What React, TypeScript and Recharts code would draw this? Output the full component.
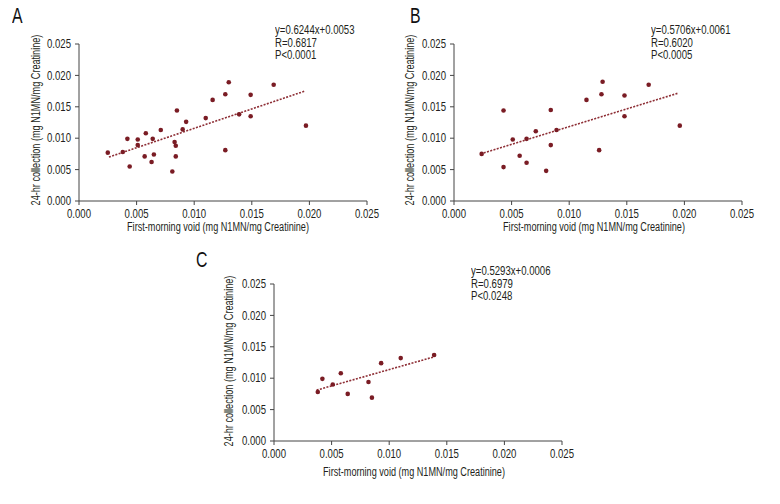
import { ScatterChart, Scatter, XAxis, YAxis, ReferenceLine } from "recharts";

const FONT = "'Liberation Sans', Arial, sans-serif";
const SQUEEZE = 0.8; // the figure uses a condensed face
const TITLE_SQUEEZE = 0.76;
const DOT_COLOR = "#7a1c24";
const TREND_COLOR = "#8e2f36";
const TEXT_COLOR = "#231f20";

const axisTicks = [0, 0.005, 0.01, 0.015, 0.02, 0.025];

const yTitle = "24-hr collection (mg N1MN/mg Creatinine)";
const xTitle = "First-morning void (mg N1MN/mg Creatinine)";

const pointsA = [
  { x: 0.0025, y: 0.0077 }, { x: 0.0038, y: 0.0078 }, { x: 0.0042, y: 0.0099 },
  { x: 0.0044, y: 0.0055 }, { x: 0.0051, y: 0.0098 }, { x: 0.0051, y: 0.0089 },
  { x: 0.0058, y: 0.0108 }, { x: 0.0057, y: 0.0071 }, { x: 0.0064, y: 0.0099 },
  { x: 0.0063, y: 0.0062 }, { x: 0.0065, y: 0.0074 }, { x: 0.0071, y: 0.0113 },
  { x: 0.0081, y: 0.0047 }, { x: 0.0083, y: 0.0094 }, { x: 0.0084, y: 0.0088 },
  { x: 0.0084, y: 0.0071 }, { x: 0.0085, y: 0.0144 }, { x: 0.009, y: 0.0114 },
  { x: 0.0093, y: 0.0126 }, { x: 0.011, y: 0.0132 }, { x: 0.0116, y: 0.0161 },
  { x: 0.0127, y: 0.017 }, { x: 0.013, y: 0.0189 }, { x: 0.0127, y: 0.0081 },
  { x: 0.0139, y: 0.0138 }, { x: 0.0149, y: 0.0169 }, { x: 0.0149, y: 0.0135 },
  { x: 0.0169, y: 0.0185 }, { x: 0.0197, y: 0.012 },
];

const pointsB = [
  { x: 0.0024, y: 0.0075 }, { x: 0.0043, y: 0.0144 }, { x: 0.0043, y: 0.0054 },
  { x: 0.0051, y: 0.0098 }, { x: 0.0057, y: 0.0072 }, { x: 0.0063, y: 0.0099 },
  { x: 0.0063, y: 0.0061 }, { x: 0.0071, y: 0.0111 }, { x: 0.008, y: 0.0048 },
  { x: 0.0084, y: 0.0145 }, { x: 0.0084, y: 0.0089 }, { x: 0.0089, y: 0.0113 },
  { x: 0.0115, y: 0.0161 }, { x: 0.0128, y: 0.017 }, { x: 0.0129, y: 0.019 },
  { x: 0.0126, y: 0.0081 }, { x: 0.0148, y: 0.0168 }, { x: 0.0148, y: 0.0135 },
  { x: 0.0169, y: 0.0185 }, { x: 0.0196, y: 0.012 },
];

const pointsC = [
  { x: 0.0038, y: 0.0078 }, { x: 0.0042, y: 0.0099 }, { x: 0.0051, y: 0.009 },
  { x: 0.0058, y: 0.0108 }, { x: 0.0064, y: 0.0075 }, { x: 0.0082, y: 0.0094 },
  { x: 0.0085, y: 0.0069 }, { x: 0.0093, y: 0.0124 }, { x: 0.011, y: 0.0132 },
  { x: 0.0139, y: 0.0137 },
];

// fitted lines, endpoints as drawn
const trendA = [{ x: 0.0026, y: 0.007 }, { x: 0.0196, y: 0.0175 }];
const trendB = [{ x: 0.0023, y: 0.0075 }, { x: 0.0195, y: 0.0172 }];
const trendC = [{ x: 0.0037, y: 0.0081 }, { x: 0.0139, y: 0.0134 }];

const statsA = ["y=0.6244x+0.0053", "R=0.6817", "P<0.0001"];
const statsB = ["y=0.5706x+0.0061", "R=0.6020", "P<0.0005"];
const statsC = ["y=0.5293x+0.0006", "R=0.6979", "P<0.0248"];

const fmt = (v: number) => v.toFixed(3);

const Dot = (props: any) => (
  <circle cx={props.cx} cy={props.cy} r={2.3} fill={DOT_COLOR} />
);

const XTick = ({ x, y, payload }: any) => (
  <g transform={`translate(${x},${y})`}>
    <text
      transform={`scale(${SQUEEZE},1)`}
      textAnchor="middle"
      dy="0.71em"
      fontSize={12}
      fontFamily={FONT}
      fill={TEXT_COLOR}
    >
      {fmt(payload.value)}
    </text>
  </g>
);

const YTick = ({ x, y, payload }: any) => (
  <g transform={`translate(${x},${y})`}>
    <text
      transform={`scale(${SQUEEZE},1)`}
      textAnchor="end"
      dy="0.355em"
      fontSize={12}
      fontFamily={FONT}
      fill={TEXT_COLOR}
    >
      {fmt(payload.value)}
    </text>
  </g>
);

interface PanelProps {
  left: number;
  top: number;
  points: { x: number; y: number }[];
  trend: { x: number; y: number }[];
}

const Panel = ({ left, top, points, trend }: PanelProps) => (
  <div style={{ position: "absolute", left, top }}>
    <ScatterChart
      width={400}
      height={250}
      margin={{ top: 44, right: 33, bottom: 19, left: 0 }}
    >
      <XAxis
        type="number"
        dataKey="x"
        domain={[0, 0.025]}
        ticks={axisTicks}
        stroke="#444"
        tickSize={4}
        tickMargin={4}
        height={30}
        tick={<XTick />}
      />
      <YAxis
        type="number"
        dataKey="y"
        domain={[0, 0.025]}
        ticks={axisTicks}
        stroke="#444"
        tickSize={4}
        tickMargin={4}
        width={79}
        tick={<YTick />}
      />
      <ReferenceLine
        segment={trend}
        stroke={TREND_COLOR}
        strokeWidth={1.6}
        strokeDasharray="2 1.4"
        ifOverflow="visible"
      />
      <Scatter data={points} isAnimationActive={false} shape={Dot} />
    </ScatterChart>
  </div>
);

const textBase = {
  position: "absolute" as const,
  fontSize: 12,
  whiteSpace: "nowrap" as const,
  color: TEXT_COLOR,
};

const Stats = ({ left, top, lines }: { left: number; top: number; lines: string[] }) => (
  <div
    style={{
      ...textBase,
      left,
      top,
      lineHeight: "12.5px",
      transform: `scale(${SQUEEZE},1)`,
      transformOrigin: "0 0",
    }}
  >
    {lines.map((l) => (
      <div key={l}>{l}</div>
    ))}
  </div>
);

const YTitle = ({ cx, cy }: { cx: number; cy: number }) => (
  <div
    style={{
      ...textBase,
      left: cx,
      top: cy,
      transform: `translate(-50%, -50%) rotate(-90deg) scale(${TITLE_SQUEEZE},1)`,
    }}
  >
    {yTitle}
  </div>
);

const XTitle = ({ cx, cy }: { cx: number; cy: number }) => (
  <div
    style={{
      ...textBase,
      left: cx,
      top: cy,
      transform: `translate(-50%, -50%) scale(${TITLE_SQUEEZE},1)`,
    }}
  >
    {xTitle}
  </div>
);

const Letter = ({ left, top, text }: { left: number; top: number; text: string }) => (
  <div
    style={{
      ...textBase,
      left,
      top,
      fontSize: 22,
      lineHeight: "22px",
      color: "#111",
      transform: "scale(0.72,1)",
      transformOrigin: "0 0",
    }}
  >
    {text}
  </div>
);

export default function App() {
  return (
    <div
      style={{
        position: "relative",
        width: 780,
        height: 504,
        margin: -8,
        background: "#fff",
        fontFamily: FONT,
        overflow: "hidden",
      }}
    >
      <Panel left={0} top={0} points={pointsA} trend={trendA} />
      <Panel left={375} top={0} points={pointsB} trend={trendB} />
      <Panel left={195} top={240} points={pointsC} trend={trendC} />

      <Letter left={12} top={5} text="A" />
      <Letter left={410} top={5} text="B" />
      <Letter left={196} top={249} text="C" />

      <Stats left={275} top={24} lines={statsA} />
      <Stats left={651} top={24} lines={statsB} />
      <Stats left={471} top={265} lines={statsC} />

      <YTitle cx={36} cy={120} />
      <YTitle cx={410} cy={120} />
      <YTitle cx={229} cy={361} />

      <XTitle cx={218} cy={227} />
      <XTitle cx={594} cy={227} />
      <XTitle cx={414} cy={472} />
    </div>
  );
}
